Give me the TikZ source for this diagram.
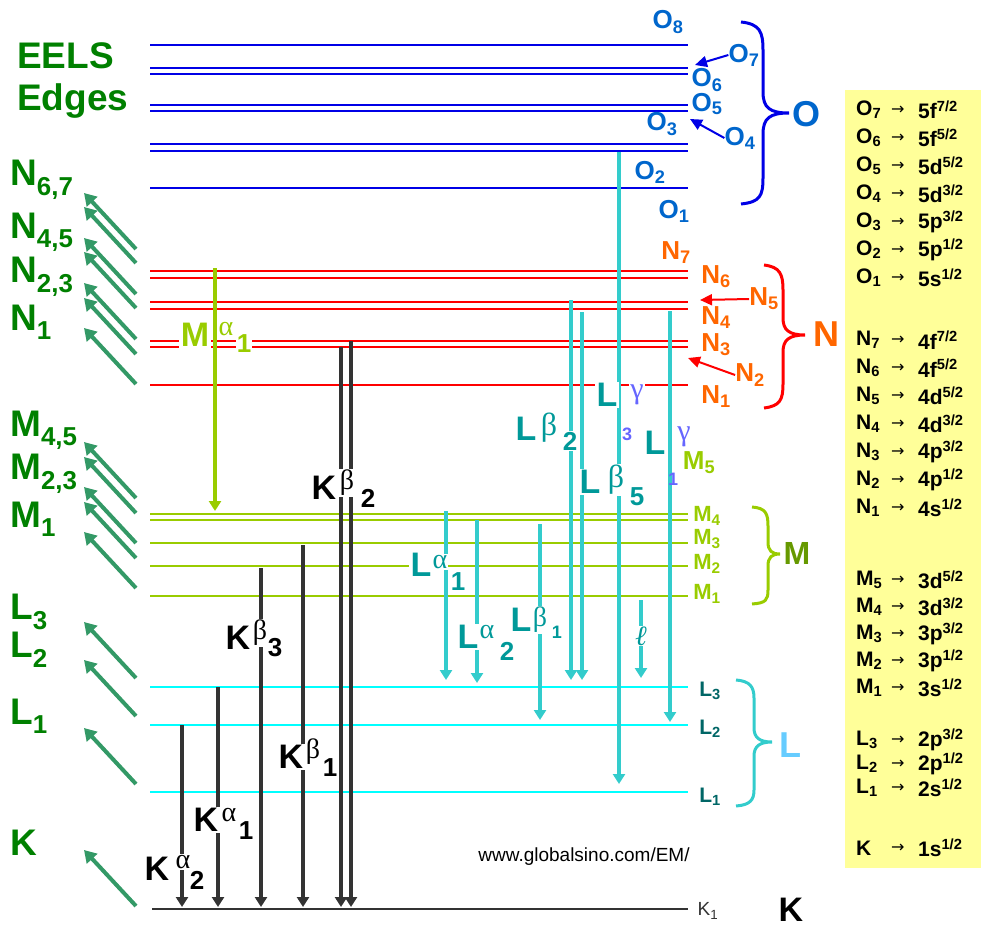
\documentclass[tikz,border=0pt]{standalone}
\usepackage{fontspec}
\setmainfont{Liberation Sans}
\newfontfamily\grk{Liberation Serif}
\newfontfamily\dv{DejaVu Sans}
\usetikzlibrary{arrows.meta}
\definecolor{eg}{HTML}{008000}
\definecolor{ea}{HTML}{339966}
\definecolor{ob}{HTML}{0000E6}
\definecolor{ol}{HTML}{0066CC}
\definecolor{nr}{HTML}{FF0000}
\definecolor{nl}{HTML}{FF6600}
\definecolor{mg}{HTML}{99CC00}
\definecolor{mo}{HTML}{669900}
\definecolor{lc}{HTML}{00FFFF}
\definecolor{la}{HTML}{33CCCC}
\definecolor{ll}{HTML}{006666}
\definecolor{lb}{HTML}{66CCFF}
\definecolor{tl}{HTML}{009999}
\definecolor{gp}{HTML}{6666FF}
\definecolor{kd}{HTML}{333333}
\definecolor{ty}{HTML}{FFFF99}
\newcommand\fs[1]{\fontsize{#1}{#1}\selectfont}
\newcommand\lo[1]{\textsubscript{#1}}
\newcommand\hi[1]{\textsuperscript{#1}}
\tikzset{
 lev/.style={line width=2pt},
 edgearr/.style={draw=ea,fill=ea,line width=4pt,-{Triangle[length=12pt,width=14pt]}},
 big/.style={font=\fs{37}\bfseries,text=eg,anchor=west,inner sep=0pt},
 lab/.style={font=\fs{26}\bfseries,inner sep=0pt},
 tr/.style={draw=la,line width=3.5pt,-{Triangle[length=10pt,width=12pt]}},
 kt/.style={draw=kd,line width=3.5pt,-{Triangle[length=10pt,width=12pt]}},
 tlab/.style={fill=white,inner sep=1.5pt,font=\fs{34}\bfseries},
 tg/.style={fill=white,inner sep=1pt,font=\fs{28}\grk},
 tn/.style={fill=white,inner sep=1pt,font=\fs{26}\bfseries},
 ptr/.style={line width=2pt,-{Triangle[length=12pt,width=11pt]}},
 brace/.style={line width=3pt},
 row/.style={anchor=west,inner sep=0pt,font=\fs{21}\bfseries}
}
\begin{document}
\begin{tikzpicture}[x=1pt,y=-1pt]
\useasboundingbox (0,0) rectangle (983,937);
\fill[ty] (845,90) rectangle (981,868);
% left
\node[big] (eels) at (17,56) {EELS};
\node[big] (edges) at (17,101) {Edges};
\node[big] (n67) at (10,180) {N\lo{6,7}};
\node[big] (n45) at (10,232) {N\lo{4,5}};
\node[big] (n23) at (10,277) {N\lo{2,3}};
\node[big] (n1l) at (10,322) {N\lo{1}};
\node[big] (m45) at (10,430) {M\lo{4,5}};
\node[big] (m23) at (10,474) {M\lo{2,3}};
\node[big] (m1l) at (10,519) {M\lo{1}};
\node[big] (l3l) at (10,612) {L\lo{3}};
\node[big] (l2l) at (10,650) {L\lo{2}};
\node[big] (l1l) at (10,716) {L\lo{1}};
\node[big] (kl) at (10,843) {K};
\foreach \t in {193,207,238,252,283,298,328,442,457,487,502,532,622,660,728,850}
  \draw[edgearr] (136,\t+56) -- (84,\t);
% levels
\foreach \y in {45,68,74,105,111,144,151,188} \draw[lev,ob] (150,\y) -- (688,\y);
\foreach \y in {271,278,302,309,341,347,385} \draw[lev,nr] (150,\y) -- (688,\y);
\foreach \y in {514,520,543,566,596} \draw[lev,mg] (150,\y) -- (688,\y);
\foreach \y in {687,725,792} \draw[lev,lc] (150,\y) -- (688,\y);
\draw[lev,kd] (152,909) coordinate (k0) -- (688,909) coordinate (k1);
% K transitions
\draw[kt] (182,725) -- (182,907);
\draw[kt] (218,687) -- (218,907);
\draw[kt] (261,568) -- (261,907);
\draw[kt] (303,545) -- (303,907);
\draw[kt] (341,347) -- (341,907);
\draw[kt] (351,341) -- (351,907);
\draw[draw=mg,line width=3.5pt,-{Triangle[length=10pt,width=12pt]}] (215,268) -- (215,511);
% L transitions
\draw[tr] (446,511) -- (446,680);
\draw[tr] (477,520) -- (477,683);
\draw[tr] (540,524) -- (540,720);
\draw[tr] (571,300) -- (571,680);
\draw[tr] (582,312) -- (582,680);
\draw[tr] (619,152) -- (619,784);
\draw[tr] (670,311) -- (670,722);
\draw[tr] (641,600) -- (641,678);
% K labels
\node[tlab] (ka2) at (157,869) {K}; \node[tg] (ka2g) at (183,862) {α}; \node[tn] (ka2n) at (197,880) {2};
\node[tlab] (ka1) at (206,820) {K}; \node[tg] (ka1g) at (229,815) {α}; \node[tn] (ka1n) at (246,831) {1};
\node[tlab] (kb3) at (238,638) {K}; \node[tg] (kb3g) at (260,633) {β}; \node[tn] (kb3n) at (275,648) {3};
\node[tlab] (kb1) at (291,757) {K}; \node[tg] (kb1g) at (313,752) {β}; \node[tn] (kb1n) at (330,768) {1};
\node[tlab] (kb2) at (324,488) {K}; \node[tg] (kb2g) at (347,483) {β}; \node[tn] (kb2n) at (368,498) {2};
\node[tlab,text=mg] (ma1) at (195,335) {M}; \node[tg,text=mg] (ma1g) at (226,329) {α}; \node[tn,text=mg] (ma1n) at (244,344) {1};
% L labels
\node[tlab,text=tl] (la1) at (421,565) {L}; \node[tg,text=tl] (la1g) at (440,562) {α}; \node[tn,text=tl] (la1n) at (458,582) {1};
\node[tlab,text=tl] (la2) at (468,637) {L}; \node[tg,text=tl] (la2g) at (487,632) {α}; \node[tn,text=tl] (la2n) at (507,651) {2};
\node[tlab,text=tl] (lb1) at (521,620) {L}; \node[tg,text=tl] (lb1g) at (540,620) {β}; \node[tn,text=tl,font=\fs{18}\bfseries] (lb1n) at (557,632) {1};
\node[tlab,text=tl] (lb2) at (526,429) {L}; \node[tg,text=tl,font=\fs{32}\grk] (lb2g) at (549,428) {β}; \node[tn,text=tl] (lb2n) at (570,441) {2};
\node[tlab,text=tl] (lb5) at (590,482) {L}; \node[tg,text=tl,font=\fs{32}\grk] (lb5g) at (616,480) {β}; \node[tn,text=tl] (lb5n) at (637,497) {5};
\node[tlab,text=tl] (lg3) at (607,395) {L}; \node[tg,text=gp,font=\fs{30}\grk] (lg3g) at (637,395) {γ}; \node[tn,text=gp,fill=none,font=\fs{18}\bfseries] (lg3n) at (627,434) {3};
\node[tlab,text=tl] (lg1) at (655,443) {L}; \node[tg,text=gp,font=\fs{30}\grk] (lg1g) at (684,437) {γ}; \node[tn,text=gp,fill=none,font=\fs{18}\bfseries] (lg1n) at (673,479) {1};
\node[tg,text=tl,font=\fs{28}\itshape\grk] (ell) at (641,636) {ℓ};
% right level labels
\node[lab,text=ol] (o8) at (668,22) {O\lo{8}};
\node[lab,text=ol] (o7) at (744,55) {O\lo{7}};
\node[lab,text=ol] (o6) at (707,80) {O\lo{6}};
\node[lab,text=ol] (o5) at (707,104) {O\lo{5}};
\node[lab,text=ol] (o3) at (662,124) {O\lo{3}};
\node[lab,text=ol] (o4) at (740,138) {O\lo{4}};
\node[lab,text=ol] (o2) at (650,172) {O\lo{2}};
\node[lab,text=ol] (o1) at (674,211) {O\lo{1}};
\coordinate (o7t) at (695,65); \coordinate (o4t) at (690,119);
\draw[ptr,ob] (o7.west) -- (o7t);
\draw[ptr,ob] (o4.west) -- (o4t);
\node[lab,text=nl] (n7) at (676,253) {N\lo{7}};
\node[lab,text=nl] (n6) at (716,277) {N\lo{6}};
\node[lab,text=nl] (n5) at (764,299) {N\lo{5}};
\node[lab,text=nl] (n4) at (716,318) {N\lo{4}};
\node[lab,text=nl] (n3) at (716,345) {N\lo{3}};
\node[lab,text=nl] (n2) at (750,375) {N\lo{2}};
\node[lab,text=nl] (n1) at (716,397) {N\lo{1}};
\coordinate (n5t) at (700,300); \coordinate (n2t) at (688,358);
\draw[ptr,nr] (n5.west) -- (n5t);
\draw[ptr,nr] (n2.west) -- (n2t);
\node[lab,text=mg] (m5) at (699,463) {M\lo{5}};
\node[lab,text=mg,font=\fs{22}\bfseries] (m4) at (707,516) {M\lo{4}};
\node[lab,text=mg,font=\fs{22}\bfseries] (m3) at (707,539) {M\lo{3}};
\node[lab,text=mg,font=\fs{22}\bfseries] (m2) at (707,564) {M\lo{2}};
\node[lab,text=mg,font=\fs{22}\bfseries] (m1) at (707,594) {M\lo{1}};
\node[lab,text=ll,font=\fs{21}\bfseries] (l3) at (710,691) {L\lo{3}};
\node[lab,text=ll,font=\fs{21}\bfseries] (l2) at (710,729) {L\lo{2}};
\node[lab,text=ll,font=\fs{21}\bfseries] (l1) at (710,797) {L\lo{1}};
\node[lab,text=kd,font=\fs{19}] (kk1) at (708,911) {K\lo{1}};
% braces
\draw[brace,ob] (741,22) .. controls (760,24) and (763,32) .. (763,50) -- (763,92) .. controls (763,108) and (770,113) .. (789,113)
  (789,113) .. controls (770,113) and (763,118) .. (763,134) -- (763,178) .. controls (763,196) and (760,202) .. (741,204);
\node[inner sep=0pt,text=ol,font=\fs{36}\bfseries] (obig) at (806,114) {O};
\draw[brace,nr] (764,265) .. controls (780,267) and (783,274) .. (783,290) -- (783,318) .. controls (783,330) and (789,335) .. (805,335)
  (805,335) .. controls (789,335) and (783,340) .. (783,352) -- (783,384) .. controls (783,400) and (780,406) .. (764,408);
\node[inner sep=0pt,text=nl,font=\fs{36}\bfseries] (nbig) at (826,334) {N};
\draw[brace,mg] (752,507) .. controls (766,508) and (768,514) .. (768,526) -- (768,542) .. controls (768,551) and (772,554) .. (780,554)
  (780,554) .. controls (772,554) and (768,557) .. (768,566) -- (768,590) .. controls (768,600) and (766,603) .. (752,604);
\node[inner sep=0pt,text=mo,font=\fs{32}\bfseries] (mbig) at (797,553) {M};
\draw[brace,la] (736,680) .. controls (750,681) and (754,687) .. (754,698) -- (754,728) .. controls (754,738) and (760,742) .. (772,742)
  (772,742) .. controls (760,742) and (754,746) .. (754,756) -- (754,790) .. controls (754,800) and (750,805) .. (736,806);
\node[inner sep=0pt,text=lb,font=\fs{36}\bfseries] (lbig) at (790,745) {L};
\node[inner sep=0pt,font=\fs{34}\bfseries] (kbig) at (791,910) {K};
\node[inner sep=0pt,font=\fs{19}] (www) at (584,857) {www.globalsino.com/EM/};
% table rows
\foreach \n/\s/\y in {O\lo{7}/5f\hi{7/2}/110,O\lo{6}/5f\hi{5/2}/138,O\lo{5}/5d\hi{5/2}/166,O\lo{4}/5d\hi{3/2}/194,O\lo{3}/5p\hi{3/2}/222,O\lo{2}/5p\hi{1/2}/250,O\lo{1}/5s\hi{1/2}/278,
 N\lo{7}/4f\hi{7/2}/340,N\lo{6}/4f\hi{5/2}/368,N\lo{5}/4d\hi{5/2}/396,N\lo{4}/4d\hi{3/2}/424,N\lo{3}/4p\hi{3/2}/452,N\lo{2}/4p\hi{1/2}/480,N\lo{1}/4s\hi{1/2}/508,
 M\lo{5}/3d\hi{5/2}/580,M\lo{4}/3d\hi{3/2}/607,M\lo{3}/3p\hi{3/2}/634,M\lo{2}/3p\hi{1/2}/661,M\lo{1}/3s\hi{1/2}/688,
 L\lo{3}/2p\hi{3/2}/740,L\lo{2}/2p\hi{1/2}/764,L\lo{1}/2s\hi{1/2}/788,K/1s\hi{1/2}/848}
 {\node[row] at (856,\y) {\n}; \node[row,font=\fs{16}\dv] at (891,\y) {→}; \node[row] at (918,\y) {\s};}
\end{tikzpicture}
\end{document}
